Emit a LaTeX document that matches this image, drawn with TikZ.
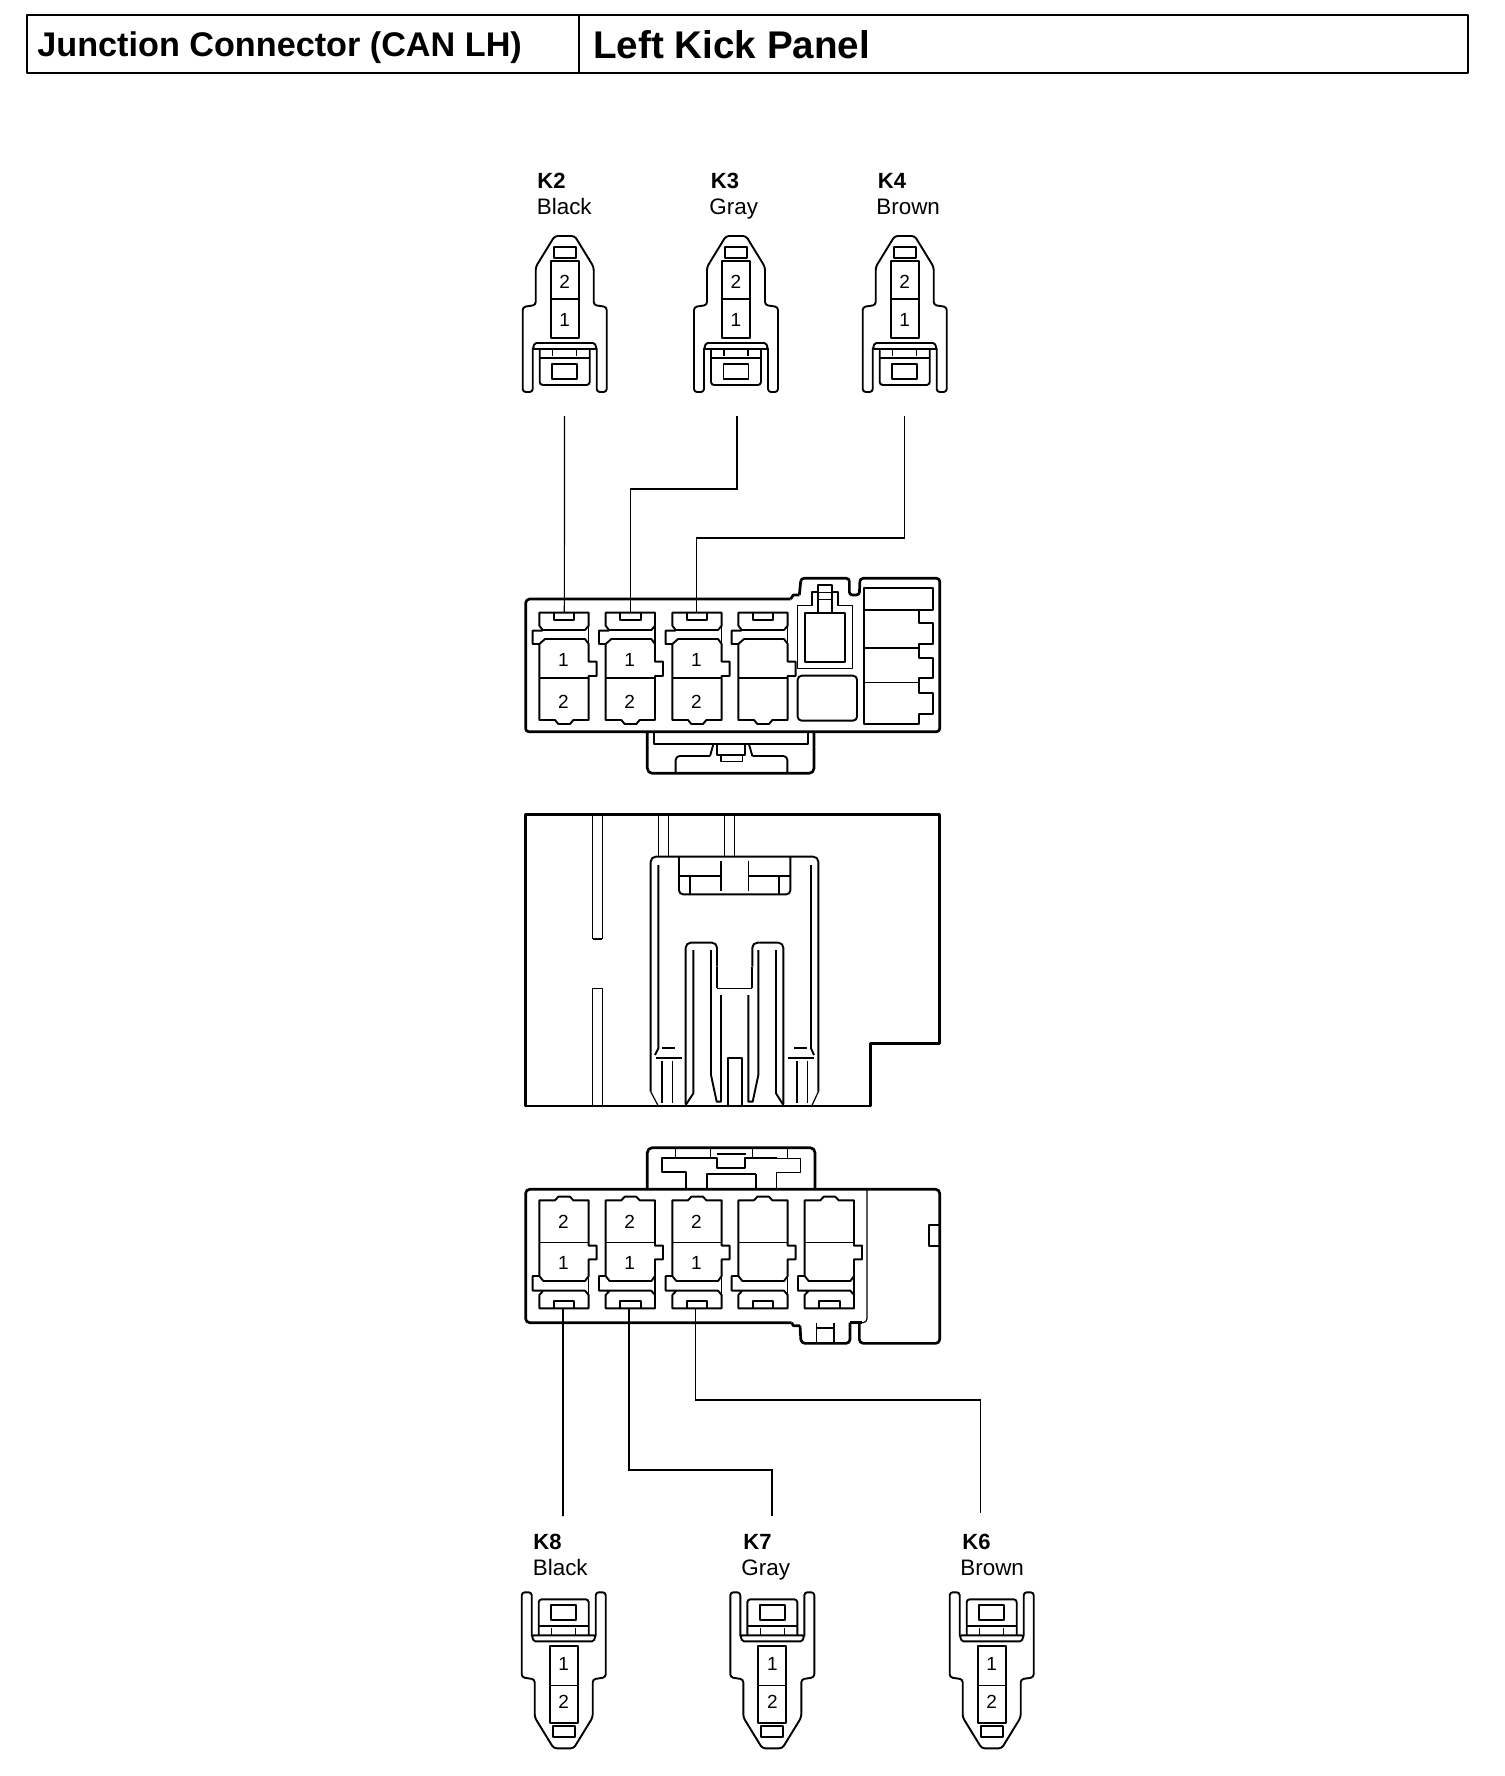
\documentclass[tikz,border=0pt]{standalone}
\usepackage{fontspec}
\setmainfont{Liberation Sans}
\usetikzlibrary{positioning}
\usetikzlibrary{calc}

\tikzset{
	heavy/.style={line width=1.35pt,line join=round},
	medium/.style={line width=0.95pt,line join=round},
	fine/.style={line width=0.6pt,line join=round},
	leader/.style={line width=0.6pt},
	pinno/.style={font=\fontsize{9.5}{10}\selectfont,inner sep=0pt},
	codelabel/.style={font=\fontsize{11}{12}\selectfont\bfseries,anchor=base west,inner sep=0pt},
	colourlabel/.style={font=\fontsize{11.2}{12}\selectfont,anchor=base west,inner sep=0pt},
	titlelabel/.style={font=\fontsize{#1}{#1}\selectfont\bfseries,anchor=base west,inner sep=0pt},
	% the small plug, top centre at the origin
	pics/plug/.style={code={
		\draw[medium,rounded corners=1.5pt] (-32,112) -- (-32,156) -- (-42,156) -- (-42,71) -- (-29,69) -- (-29,31) -- (-10,0) -- (10,0) -- (29,31) -- (29,69) -- (42,71) -- (42,156) -- (32,156) -- (32,112);
		\draw[medium,rounded corners=0.8pt] (-32,113) -- (-30,107) -- (30,107) -- (32,113) -- cycle;
		\draw[medium,rounded corners=1.5pt] (-25,113) -- (-25,149) -- (25,149) -- (25,113);
		\draw[medium] (-25,122) -- (25,122);
		\draw[fine] (-12,113) -- (-12,120) (12,113) -- (12,120);
		\draw[medium] (-12.5,128) rectangle (12.5,143);
		\draw[medium] (-14,25) rectangle (14,102);
		\draw[fine] (-14,63) -- (14,63);
		\draw[medium] (-11,11) rectangle (11,22);
		\node[pinno] (-two) at (0,46) {2};
		\node[pinno] (-one) at (0,84) {1};
	}},
	% one cavity of the upper block, left edge at the origin
	pics/cellup/.style={code={
		\draw[medium] (0,158) -- (148,158) -- (148,197) -- (137,210) -- (10,210) -- (0,197) -- cycle;
		\draw[medium] (43,158) -- (43,180) -- (105,180) -- (105,158);
		\draw[medium] (10,212) -- (-20,212) -- (-20,252) -- (0,252) -- (17,237) -- (137,237) -- (148,252) -- (148,305) -- (172,305) -- (172,348) -- (148,348) -- (148,480) -- (102,480) -- (92,492) -- (57,492) -- (47,480) -- (0,480) -- (0,252);
		\draw[fine] (148,197) -- (148,252);
		\draw[medium] (0,355) -- (148,355);
	}},
	% one cavity of the lower block
	pics/celldown/.style={code={
		\draw[medium] (0,408) -- (0,181) -- (47,181) -- (57,170) -- (92,170) -- (102,181) -- (148,181) -- (148,317) -- (172,317) -- (172,358) -- (148,358) -- (148,408) -- (137,423) -- (12,423) -- (0,408) -- (-20,408) -- (-20,452) -- (12,452) -- (137,452) -- (148,465) -- (148,505) -- (0,505) -- (0,465) -- (12,452);
		\draw[fine] (148,408) -- (148,465);
		\draw[fine] (0,307) -- (148,307);
		\draw[medium] (43,505) -- (43,483) -- (105,483) -- (105,505);
	}},
}

\begin{document}
\begin{tikzpicture}[x=0.5pt,y=-0.5pt]
	\useasboundingbox (0,0) rectangle (1504,1776);

	% Title bar
	\draw[heavy] (27,15) rectangle (1468,73);
	\draw[fine] (579,15) -- (579,74);
	\node[titlelabel=17.1] (titlea) at (37,56.7) {Junction Connector (CAN LH)};
	\node[titlelabel=19.3] (titleb) at (593,58.3) {Left Kick Panel};

	% Upper plugs
	\foreach \plug/\cx in {kii/564.7, kiii/736, kiv/904.7}
		\pic (\plug) at (\cx,236) {plug};
	\node[codelabel] (kiicode) at (537,188.3) {K2};
	\node[colourlabel] (kiicolour) at (536.5,214.3) {Black};
	\node[codelabel] (kiiicode) at (710.5,188.3) {K3};
	\node[colourlabel] (kiiicolour) at (709,214.3) {Gray};
	\node[codelabel] (kivcode) at (877.5,188.3) {K4};
	\node[colourlabel] (kivcolour) at (876,214.3) {Brown};

	% Upper block
	\begin{scope}[shift={(510,560)},x=0.16667pt,y=-0.16667pt]
		\draw[heavy,rounded corners=2pt] (47,300) -- (47,117) -- (842,117);
		\draw[heavy] (842,117) -- (850,105) -- (868,105);
		\draw[heavy,rounded corners=1.5pt] (868,105) -- (873,55) -- (1018,55) -- (1018,105) -- (1048,105) -- (1050,55) -- (1289,55) -- (1289,515) -- (47,515) -- (47,300);
		\draw[heavy,rounded corners=2.5pt] (412,515) -- (412,640) -- (912,640) -- (912,515);
		\draw[medium] (433,515) -- (433,553) -- (895,553) -- (895,515);
		\draw[medium] (610,553) -- (600,588);
		\draw[medium,rounded corners=2pt] (600,588) -- (497,588) -- (497,640);
		\draw[medium] (717,553) -- (727,588);
		\draw[medium,rounded corners=2pt] (727,588) -- (832,588) -- (832,640);
		\draw[medium] (622,553) -- (622,585) -- (705,585) -- (705,553);
		\draw[fine] (633,588) -- (633,605) -- (697,605) -- (697,588);
		\foreach \cellx in {88,287,487,685}
			\pic at (\cellx,0) {cellup};
		\foreach \cellx in {88,287,487} {
			\node[pinno] (up\cellx a) at (\cellx+72,300) {1};
			\node[pinno] (up\cellx b) at (\cellx+72,425) {2};
		}
		% socket
		\draw[fine] (905,137) -- (863,137) -- (863,325) -- (1027,325) -- (1027,137) -- (985,137);
		\draw[medium] (905,137) -- (905,97) -- (925,97) -- (925,75) -- (965,75) -- (965,97) -- (985,97) -- (985,137);
		\draw[medium] (885,158) rectangle (1006,305);
		\draw[medium] (925,97) -- (925,158) (965,97) -- (965,158);
		\draw[fine] (925,97) -- (965,97) (925,118) -- (965,118);
		\draw[medium,rounded corners=2pt] (863,347) rectangle (1041,482);
		% right column
		\draw[medium] (1062,150) -- (1062,85) -- (1270,85) -- (1270,150) -- (1062,150);
		\draw[medium] (1062,150) -- (1062,493) -- (1227,493) -- (1227,462) -- (1270,462) -- (1270,398) -- (1227,398) -- (1227,355) -- (1270,355) -- (1270,295) -- (1227,295) -- (1227,252) -- (1270,252) -- (1270,188) -- (1227,188) -- (1227,150);
		\draw[medium] (1062,265) -- (1227,265);
		\draw[fine] (1062,367) -- (1227,367);
		% pin ends of the leaders
		\coordinate (pinupa) at (163,158);
		\coordinate (pinupb) at (361,158);
		\coordinate (pinupc) at (560,158);
	\end{scope}

	% Leaders, top
	\coordinate (kiiend) at (564.5,416);
	\coordinate (kiiiend) at (737,416);
	\coordinate (kivend) at (904.7,416);
	\coordinate (kiibend) at (737,489);
	\coordinate (kivbend) at (904.7,538);
	\draw[leader] (kiiend) -- (pinupa);
	\draw[leader] (kiiiend) -- (kiibend) -| (pinupb);
	\draw[leader] (kivend) -- (kivbend) -| (pinupc);

	% Middle view
	\begin{scope}[shift={(510,800)},x=0.16667pt,y=-0.16667pt]
		\draw[heavy] (47,43) -- (1289,43) -- (1289,730) -- (1082,730) -- (1082,918) -- (47,918) -- cycle;
		\draw[fine] (248,43) -- (248,418) (277,43) -- (277,418);
		\draw[medium] (248,418) -- (277,418);
		\draw[fine] (248,918) -- (248,565) -- (277,565) -- (277,918);
		\draw[fine] (446,43) -- (446,170) (476,43) -- (476,170) (644,43) -- (644,170) (674,43) -- (674,170);
		\draw[fine] (445,918) -- (422,875);
		\draw[medium,rounded corners=2.5pt] (422,875) -- (422,170) -- (925,170) -- (925,875);
		\draw[fine] (925,875) -- (905,918);
		\draw[medium] (445,195) -- (445,745) -- (435,765);
		\draw[medium] (903,195) -- (903,745) -- (912,765);
		\draw[medium,rounded corners=2pt] (507,170) -- (507,283) -- (841,283) -- (841,170);
		\draw[medium] (507,228) -- (633,228) (715,228) -- (841,228);
		\draw[fine] (633,182) -- (633,272) (715,182) -- (715,272);
		\draw[medium] (540,228) -- (540,283) (808,228) -- (808,283);
		\draw[medium] (457,743) -- (495,743) (438,773) -- (516,773) (853,743) -- (890,743) (835,773) -- (912,773);
		\draw[medium] (456,783) -- (456,908) (860,783) -- (860,908);
		\draw[fine] (488,783) -- (488,908) (892,783) -- (892,908);
		\draw[medium,rounded corners=2.5pt] (527,912) -- (527,428) -- (621,428) -- (621,500);
		\draw[medium] (621,500) -- (621,565);
		\draw[fine] (621,565) -- (727,565);
		\draw[medium] (727,565) -- (727,500);
		\draw[medium,rounded corners=2.5pt] (727,500) -- (727,428) -- (820,428) -- (820,912);
		\draw[medium] (527,915) -- (550,880) -- (550,450);
		\draw[medium] (603,450) -- (603,825) -- (620,905) -- (633,905) -- (633,585);
		\draw[medium] (745,450) -- (745,825) -- (728,905) -- (715,905) -- (715,585);
		\draw[medium] (798,450) -- (798,880) -- (820,915);
		\draw[medium] (653,918) -- (653,773) -- (697,773) -- (697,918);
	\end{scope}

	% Lower block
	\begin{scope}[shift={(510,1140)},x=0.16667pt,y=-0.16667pt]
		\draw[heavy,rounded corners=2pt] (47,300) -- (47,148) -- (1289,148) -- (1289,610) -- (1048,610) -- (1048,548);
		\draw[heavy,rounded corners=2pt] (47,300) -- (47,548) -- (845,548);
		\draw[heavy] (845,548) -- (850,557) -- (870,557);
		\draw[heavy,rounded corners=2pt] (870,557) -- (873,610) -- (1020,610) -- (1020,548);
		\draw[heavy] (1020,548) -- (1055,548);
		\draw[fine,rounded corners=2pt] (1050,548) -- (1071,548) -- (1071,148);
		\draw[medium] (1289,255) -- (1257,255) -- (1257,318) -- (1289,318);
		\draw[heavy,rounded corners=2.5pt] (412,148) -- (412,23) -- (915,23) -- (915,148);
		\draw[fine] (497,23) -- (497,55) (601,23) -- (601,55) (727,23) -- (727,55) (832,23) -- (832,55) (620,42) -- (707,42);
		\draw[medium] (528,148) -- (528,97) -- (455,97) -- (455,55) -- (622,55) -- (622,85) -- (705,85) -- (705,55) -- (800,55);
		\draw[fine] (800,55) -- (871,55) -- (871,97) -- (800,97) -- (800,148);
		\draw[medium] (590,148) -- (590,102) -- (660,102);
		\draw[fine] (660,102) -- (738,102);
		\draw[medium] (738,102) -- (738,148);
		\draw[fine] (920,548) -- (920,610) (972,548) -- (972,610);
		\draw[medium] (920,565) -- (972,565);
		\foreach \cellx in {88,287,487,685,884}
			\pic at (\cellx,0) {celldown};
		\foreach \cellx in {88,287,487} {
			\node[pinno] (down\cellx a) at (\cellx+72,245) {2};
			\node[pinno] (down\cellx b) at (\cellx+72,370) {1};
		}
		\coordinate (pindowna) at (159,505);
		\coordinate (pindownb) at (357,505);
		\coordinate (pindownc) at (557,505);
	\end{scope}

	% Leaders, bottom
	\coordinate (kviiiend) at (563,1516);
	\coordinate (kviiend) at (772,1516);
	\coordinate (kviend) at (980.3,1512.7);
	\coordinate (kviibend) at (772,1470);
	\coordinate (kvibend) at (980.3,1400);
	\draw[line width=0.8pt] (pindowna) -- (kviiiend);
	\draw[leader] (pindownb) |- (kviibend) -- (kviiend);
	\draw[leader] (pindownc) |- (kvibend) -- (kviend);

	% Lower plugs
	\foreach \plug/\cx in {kviii/563.7, kvii/772.3, kvi/991.7}
		\pic[yscale=-1] (\plug) at (\cx,1748.3) {plug};
	\node[codelabel] (kviiicode) at (533,1549.3) {K8};
	\node[colourlabel] (kviiicolour) at (532.5,1575) {Black};
	\node[codelabel] (kviicode) at (743,1549.3) {K7};
	\node[colourlabel] (kviicolour) at (741,1575) {Gray};
	\node[codelabel] (kvicode) at (962,1549.3) {K6};
	\node[colourlabel] (kvicolour) at (960,1575) {Brown};
\end{tikzpicture}
\end{document}
